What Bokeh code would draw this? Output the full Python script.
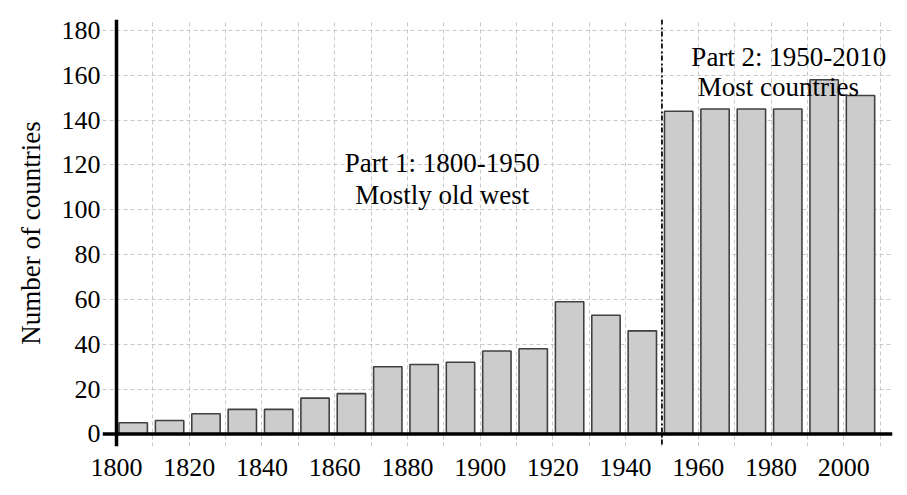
from bokeh.plotting import figure
from bokeh.models import Span, FixedTicker, Range1d, ColumnDataSource, Label
from bokeh.embed import file_html
from bokeh.resources import INLINE

decades = [1800, 1810, 1820, 1830, 1840, 1850, 1860, 1870, 1880, 1890, 1900,
           1910, 1920, 1930, 1940, 1950, 1960, 1970, 1980, 1990, 2000]
countries = [5, 6, 9, 11, 11, 16, 18, 30, 31, 32, 37,
             38, 59, 53, 46, 144, 145, 145, 145, 158, 151]
x_ticks = [1800, 1820, 1840, 1860, 1880, 1900, 1920, 1940, 1960, 1980, 2000]
y_ticks = [0, 20, 40, 60, 80, 100, 120, 140, 160, 180]
x_grid = [1810, 1820, 1830, 1840, 1850, 1860, 1870, 1880, 1890, 1900, 1910,
          1920, 1930, 1940, 1950, 1960, 1970, 1980, 1990, 2000, 2010]
split_year = 1950

FONT = "Liberation Serif"

p = figure(width=898, height=490, output_backend="svg", toolbar_location=None,
           x_range=Range1d(1796.15, 2013.4), y_range=Range1d(-5.58, 184.9),
           min_border_left=102, min_border_right=6, min_border_top=19, min_border_bottom=44)
p.outline_line_color = None
p.background_fill_color = "white"
p.border_fill_color = "white"

src = ColumnDataSource(dict(x=[d + 4.6 for d in decades], top=countries))
p.vbar(x="x", top="top", bottom=0, width=7.8, source=src,
       fill_color="#cccccc", line_color="#404040", line_width=1.6)

# axes
for ax in (p.xaxis[0], p.yaxis[0]):
    ax.axis_line_color = None
    ax.major_tick_line_color = None
    ax.minor_tick_line_color = None
    ax.major_tick_out = 0
    ax.major_tick_in = 0
    ax.major_label_text_font = FONT
    ax.major_label_text_font_size = "26px"
    ax.major_label_text_color = "black"

p.xaxis.ticker = FixedTicker(ticks=x_ticks)
p.yaxis.ticker = FixedTicker(ticks=y_ticks)
p.xaxis.major_label_standoff = 12
p.yaxis.major_label_standoff = 2
p.yaxis.axis_label = "Number of countries"
p.yaxis.axis_label_text_font = FONT
p.yaxis.axis_label_text_font_size = "27px"
p.yaxis.axis_label_text_font_style = "normal"
p.yaxis.axis_label_text_color = "black"
p.yaxis.axis_label_standoff = 13

# grid
p.xgrid.ticker = FixedTicker(ticks=x_grid)
p.ygrid.ticker = FixedTicker(ticks=[t for t in y_ticks if t > 0])
for g in (p.xgrid[0], p.ygrid[0]):
    g.grid_line_color = "#c8c8c8"
    g.grid_line_dash = "4 3"
    g.grid_line_width = 1

# axis lines
p.add_layout(Span(location=0, dimension="width", line_color="black", line_width=3.5))
p.add_layout(Span(location=1800, dimension="height", line_color="black", line_width=3.5))
p.add_layout(Span(location=split_year, dimension="height", line_color="black",
                  line_width=1.7, line_dash="5 3 2 2"))

# annotations
notes = [
    (1889.6, 121.1, "Part 1: 1800-1950"),
    (1889.6, 106.4, "Mostly old west"),
    (1984.9, 168.0, "Part 2: 1950-2010"),
    (1982.0, 154.6, "Most countries"),
]
for x, y, t in notes:
    p.add_layout(Label(x=x, y=y, text=t, text_align="center", text_baseline="alphabetic",
                       text_font=FONT, text_font_size="27px", text_color="black"))

open("out.html", "w").write(file_html(p, INLINE))
